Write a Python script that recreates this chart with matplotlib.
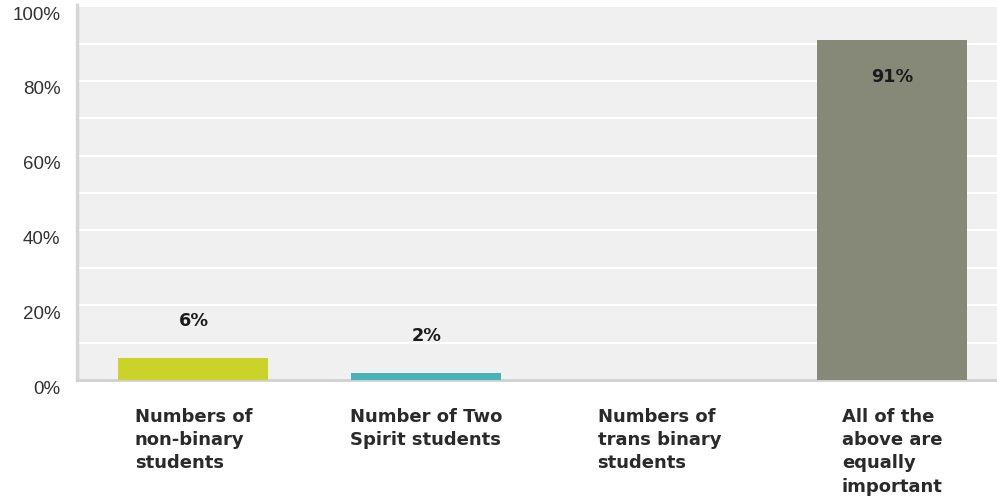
import matplotlib

matplotlib.use("Agg")
import matplotlib.pyplot as plt
from matplotlib.transforms import ScaledTranslation

categories = [
    "Numbers of\nnon-binary\nstudents",
    "Number of Two\nSpirit students",
    "Numbers of\ntrans binary\nstudents",
    "All of the\nabove are\nequally\nimportant",
]
values = [6, 2, 0, 91]
value_labels = ["6%", "2%", "", "91%"]
bar_colors = ["#cbd32a", "#47b3b6", "#999999", "#868978"]
y_ticks = [0, 20, 40, 60, 80, 100]
y_tick_labels = ["0%", "20%", "40%", "60%", "80%", "100%"]

plt.rcParams["font.family"] = ["Liberation Sans", "DejaVu Sans"]
BOLD_FONT = ["DejaVu Sans"]

fig = plt.figure(figsize=(9.97, 5.04), dpi=100)
ax = fig.add_axes([77 / 997, 124 / 504, 920 / 997, 375 / 504])
ax.set_facecolor("#f0f0f0")

x = list(range(len(categories)))
ax.bar(x, values, width=0.644, color=bar_colors, zorder=3)

for xi, v, lab in zip(x, values, value_labels):
    if not lab:
        continue
    offset = -27 if v > 50 else 26
    ax.annotate(lab, (xi, v), xytext=(0, offset), textcoords="offset points",
                ha="center", va="center", fontsize=12.7, fontweight="bold",
                family=BOLD_FONT, color="#1a1a1a", zorder=4)

ax.set_xlim(-0.5, 3.45)
ax.set_ylim(0, 100.3)
ax.set_yticks(y_ticks)
ax.set_yticklabels(y_tick_labels, fontsize=13.5, color="#333333")
ax.set_yticks(range(10, 100, 20), minor=True)
ax.grid(True, which="both", axis="y", color="white", linewidth=1.5, zorder=1)
ax.tick_params(axis="y", which="both", length=0, pad=12)
for label in ax.get_yticklabels():
    label.set_transform(label.get_transform() + ScaledTranslation(0, -7 / 100, fig.dpi_scale_trans))

ax.set_xticks(x)
ax.set_xticklabels(categories, fontsize=13, fontweight="bold", family=BOLD_FONT,
                   color="#2a2a2a", multialignment="left", linespacing=1.38)
ax.tick_params(axis="x", length=0, pad=20)

for side in ["top", "right"]:
    ax.spines[side].set_visible(False)
ax.spines["left"].set_color("#d6d6d6")
ax.spines["left"].set_linewidth(2.5)
ax.spines["bottom"].set_color("#d0d0d0")
ax.spines["bottom"].set_linewidth(2)

fig.savefig("out.png", dpi=100, facecolor="white")
